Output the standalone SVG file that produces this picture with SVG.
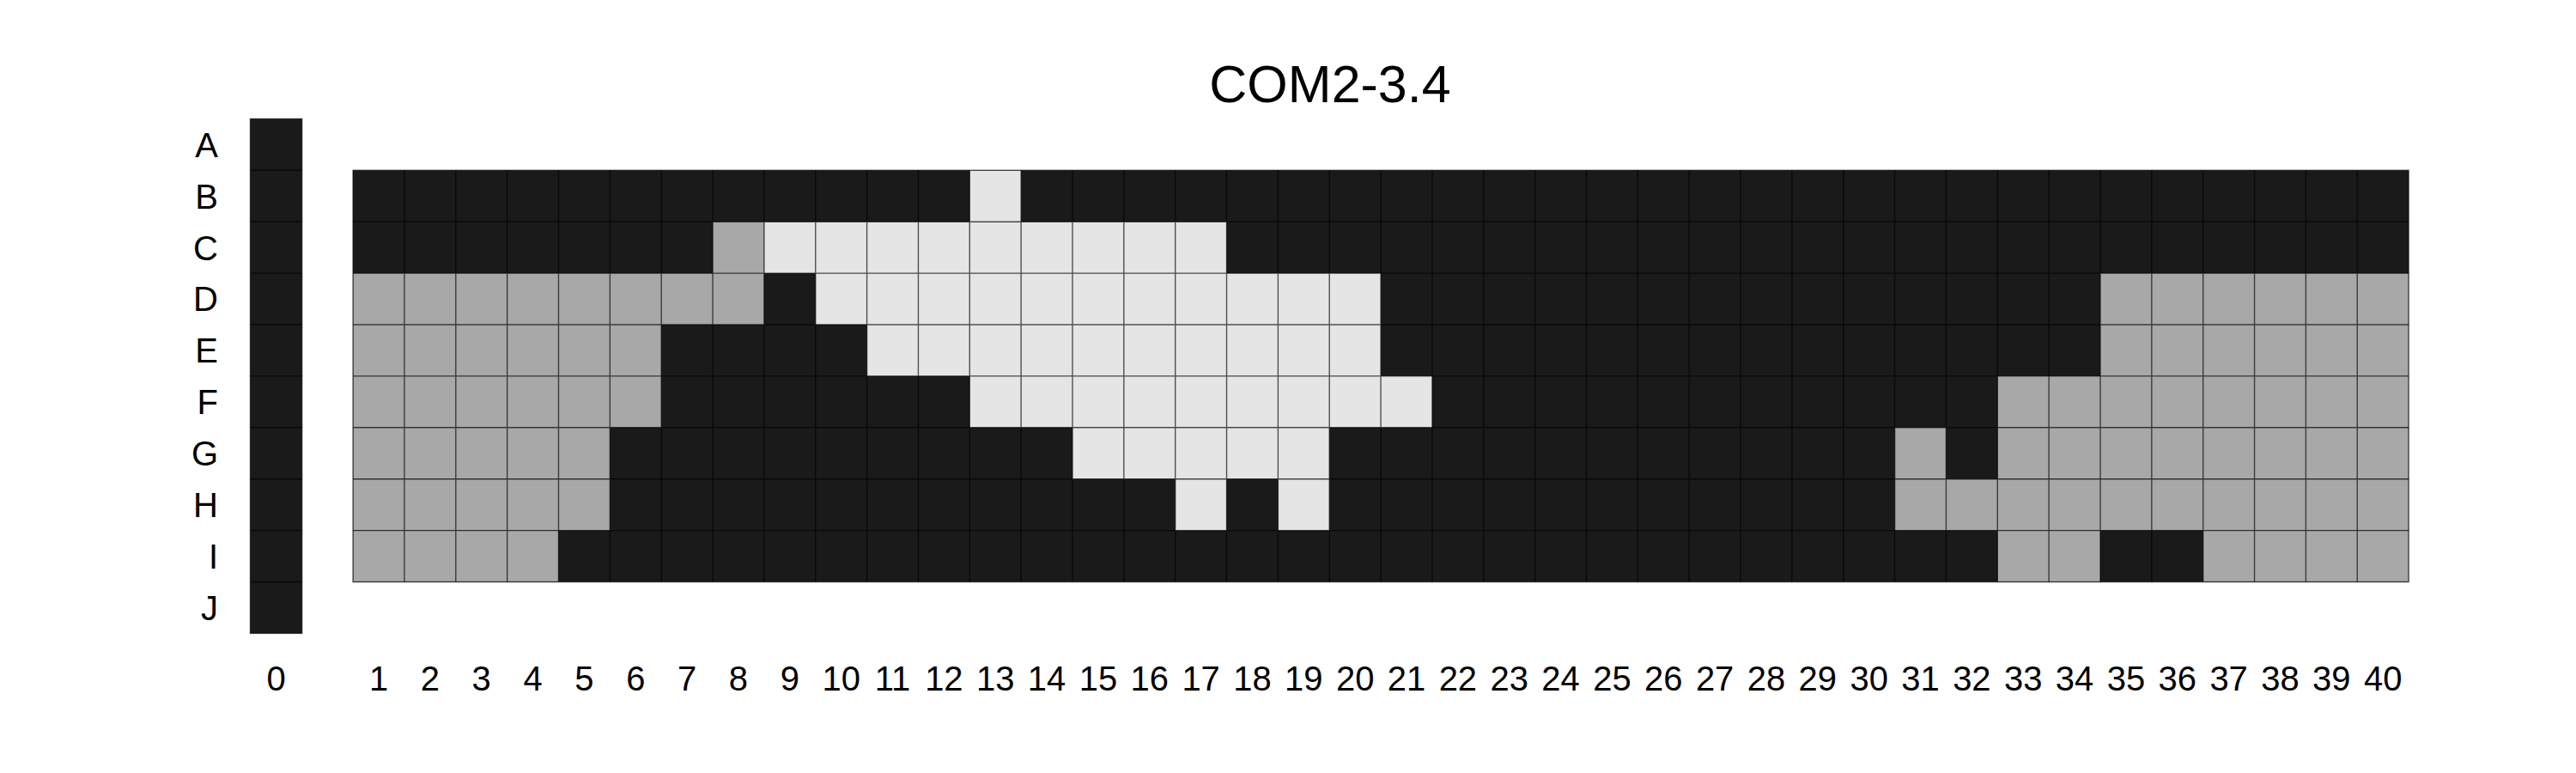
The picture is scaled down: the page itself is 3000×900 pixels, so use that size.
<svg xmlns="http://www.w3.org/2000/svg" width="3000" height="900" viewBox="0 0 3000 900">
<style>
text{font-family:"Liberation Sans",Arial,sans-serif;fill:#000}
.t{font-size:61px;text-anchor:middle}
.r{font-size:40px;text-anchor:end}
.c{font-size:40px;text-anchor:middle}
.k{fill:#1a1a1a}
.g{fill:#a8a8a8}
.l{fill:#e5e5e5}
.grid{stroke:#000;stroke-opacity:0.65;stroke-width:1.4;fill:none}
</style>
<rect width="3000" height="900" fill="#fff"/>
<text class="t" x="1549" y="119">COM2-3.4</text>
<g id="row-labels">
<text class="r" x="254" y="182.7">A</text>
<text class="r" x="254" y="242.6">B</text>
<text class="r" x="254" y="302.5">C</text>
<text class="r" x="254" y="362.4">D</text>
<text class="r" x="254" y="422.3">E</text>
<text class="r" x="254" y="482.2">F</text>
<text class="r" x="254" y="542.1">G</text>
<text class="r" x="254" y="602.0">H</text>
<text class="r" x="254" y="661.9">I</text>
<text class="r" x="254" y="721.8">J</text>
</g>
<g id="column-0">
<rect class="k" x="291.5" y="138.4" width="60.2" height="599"/>
<path class="grid" d="M291.5 198.3H351.7M291.5 258.2H351.7M291.5 318.1H351.7M291.5 378H351.7M291.5 437.9H351.7M291.5 497.8H351.7M291.5 557.7H351.7M291.5 617.6H351.7M291.5 677.5H351.7"/>
<rect class="grid" x="291.5" y="138.4" width="60.2" height="599"/>
</g>
<g id="grid">
<rect class="k" x="411.1" y="198.3" width="2394" height="479.2"/>
<g id="row-B"><rect class="l" x="1129.3" y="198.3" width="59.85" height="59.9"/></g>
<g id="row-C">
<rect class="g" x="830.05" y="258.2" width="59.85" height="59.9"/>
<rect class="l" x="889.9" y="258.2" width="538.65" height="59.9"/>
</g>
<g id="row-D">
<rect class="g" x="411.1" y="318.1" width="478.8" height="59.9"/>
<rect class="l" x="949.75" y="318.1" width="658.35" height="59.9"/>
<rect class="g" x="2446" y="318.1" width="359.1" height="59.9"/>
</g>
<g id="row-E">
<rect class="g" x="411.1" y="378" width="359.1" height="59.9"/>
<rect class="l" x="1009.6" y="378" width="598.5" height="59.9"/>
<rect class="g" x="2446" y="378" width="359.1" height="59.9"/>
</g>
<g id="row-F">
<rect class="g" x="411.1" y="437.9" width="359.1" height="59.9"/>
<rect class="l" x="1129.3" y="437.9" width="538.65" height="59.9"/>
<rect class="g" x="2326.3" y="437.9" width="478.8" height="59.9"/>
</g>
<g id="row-G">
<rect class="g" x="411.1" y="497.8" width="299.25" height="59.9"/>
<rect class="l" x="1249" y="497.8" width="299.25" height="59.9"/>
<rect class="g" x="2206.6" y="497.8" width="59.85" height="59.9"/>
<rect class="g" x="2326.3" y="497.8" width="478.8" height="59.9"/>
</g>
<g id="row-H">
<rect class="g" x="411.1" y="557.7" width="299.25" height="59.9"/>
<rect class="l" x="1368.7" y="557.7" width="59.85" height="59.9"/>
<rect class="l" x="1488.4" y="557.7" width="59.85" height="59.9"/>
<rect class="g" x="2206.6" y="557.7" width="598.5" height="59.9"/>
</g>
<g id="row-I">
<rect class="g" x="411.1" y="617.6" width="239.4" height="59.9"/>
<rect class="g" x="2326.3" y="617.6" width="119.7" height="59.9"/>
<rect class="g" x="2565.7" y="617.6" width="239.4" height="59.9"/>
</g>
<path class="grid" d="M411.1 258.2H2805.1M411.1 318.1H2805.1M411.1 378H2805.1M411.1 437.9H2805.1M411.1 497.8H2805.1M411.1 557.7H2805.1M411.1 617.6H2805.1
M470.95 198.3V677.5M530.8 198.3V677.5M590.65 198.3V677.5M650.5 198.3V677.5M710.35 198.3V677.5M770.2 198.3V677.5M830.05 198.3V677.5M889.9 198.3V677.5M949.75 198.3V677.5M1009.6 198.3V677.5
M1069.45 198.3V677.5M1129.3 198.3V677.5M1189.15 198.3V677.5M1249 198.3V677.5M1308.85 198.3V677.5M1368.7 198.3V677.5M1428.55 198.3V677.5M1488.4 198.3V677.5M1548.25 198.3V677.5M1608.1 198.3V677.5
M1667.95 198.3V677.5M1727.8 198.3V677.5M1787.65 198.3V677.5M1847.5 198.3V677.5M1907.35 198.3V677.5M1967.2 198.3V677.5M2027.05 198.3V677.5M2086.9 198.3V677.5M2146.75 198.3V677.5M2206.6 198.3V677.5
M2266.45 198.3V677.5M2326.3 198.3V677.5M2386.15 198.3V677.5M2446 198.3V677.5M2505.85 198.3V677.5M2565.7 198.3V677.5M2625.55 198.3V677.5M2685.4 198.3V677.5M2745.25 198.3V677.5"/>
<rect class="grid" x="411.1" y="198.3" width="2394" height="479.2"/>
</g>
<g id="column-labels">
<text class="c" x="321.6" y="804">0</text>
<text class="c" x="441.03" y="804">1</text>
<text class="c" x="500.88" y="804">2</text>
<text class="c" x="560.73" y="804">3</text>
<text class="c" x="620.58" y="804">4</text>
<text class="c" x="680.43" y="804">5</text>
<text class="c" x="740.28" y="804">6</text>
<text class="c" x="800.13" y="804">7</text>
<text class="c" x="859.98" y="804">8</text>
<text class="c" x="919.83" y="804">9</text>
<text class="c" x="979.68" y="804">10</text>
<text class="c" x="1039.53" y="804">11</text>
<text class="c" x="1099.38" y="804">12</text>
<text class="c" x="1159.23" y="804">13</text>
<text class="c" x="1219.08" y="804">14</text>
<text class="c" x="1278.93" y="804">15</text>
<text class="c" x="1338.78" y="804">16</text>
<text class="c" x="1398.63" y="804">17</text>
<text class="c" x="1458.48" y="804">18</text>
<text class="c" x="1518.33" y="804">19</text>
<text class="c" x="1578.18" y="804">20</text>
<text class="c" x="1638.03" y="804">21</text>
<text class="c" x="1697.88" y="804">22</text>
<text class="c" x="1757.73" y="804">23</text>
<text class="c" x="1817.58" y="804">24</text>
<text class="c" x="1877.43" y="804">25</text>
<text class="c" x="1937.28" y="804">26</text>
<text class="c" x="1997.13" y="804">27</text>
<text class="c" x="2056.98" y="804">28</text>
<text class="c" x="2116.83" y="804">29</text>
<text class="c" x="2176.68" y="804">30</text>
<text class="c" x="2236.53" y="804">31</text>
<text class="c" x="2296.38" y="804">32</text>
<text class="c" x="2356.23" y="804">33</text>
<text class="c" x="2416.08" y="804">34</text>
<text class="c" x="2475.93" y="804">35</text>
<text class="c" x="2535.78" y="804">36</text>
<text class="c" x="2595.63" y="804">37</text>
<text class="c" x="2655.48" y="804">38</text>
<text class="c" x="2715.33" y="804">39</text>
<text class="c" x="2775.18" y="804">40</text>
</g>
</svg>
